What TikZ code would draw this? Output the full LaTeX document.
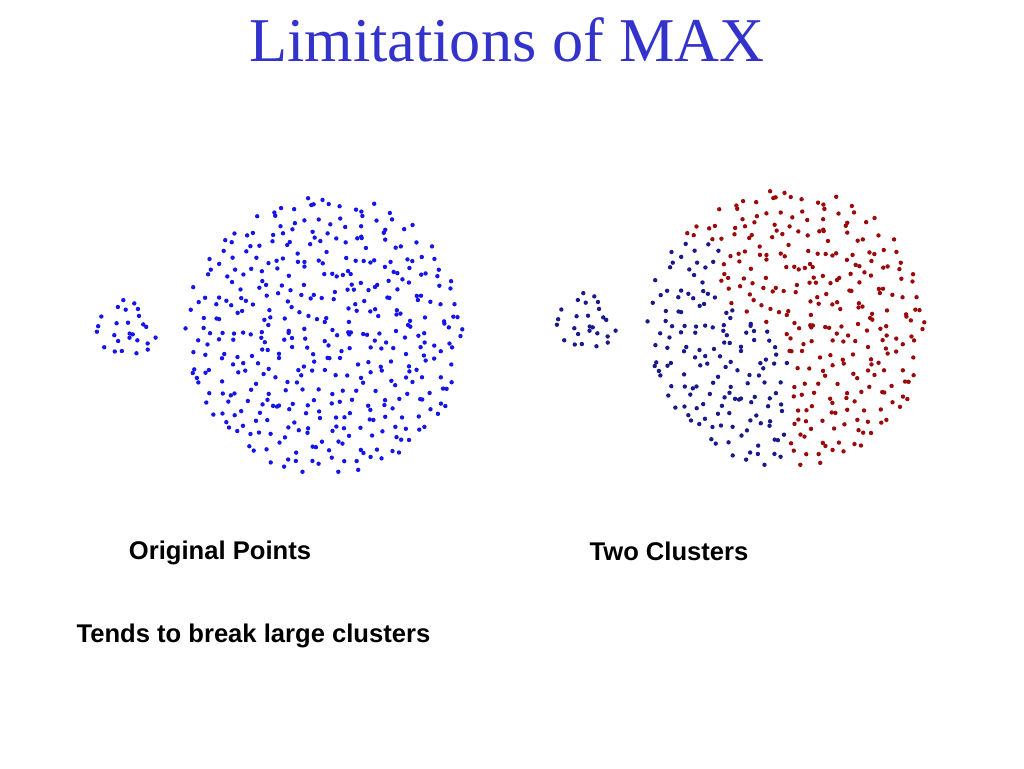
\documentclass[tikz,border=0pt]{standalone}
\usepackage{fontspec}
\setmainfont{Liberation Serif}
\newfontfamily\labelfont{Liberation Sans}
\definecolor{titleblue}{RGB}{51,51,204}
\definecolor{ptblue}{RGB}{20,20,235}
\definecolor{clblue}{RGB}{25,25,140}
\definecolor{clred}{RGB}{155,10,10}

\begin{document}
\begin{tikzpicture}[x=1pt,y=-1pt,
  dot/.style={fill=#1},
  lbl/.style={font=\labelfont\bfseries\fontsize{25.6}{30}\selectfont}]
  \useasboundingbox (0,0) rectangle (1024,768);

  \node (title) [text=titleblue,font=\fontsize{62.3}{70}\selectfont] at (507,40) {Limitations of MAX};

  % large cluster, left copy and split copy
  \pgfmathsetseed{41}
  \foreach \gx in {-138,-126,...,138} {
    \foreach \gy in {-138,-126,...,138} {
      \pgfmathsetmacro\offx{\gx+12.5*(rnd-0.5)}
      \pgfmathsetmacro\offy{\gy+12.5*(rnd-0.5)}
      \pgfmathtruncatemacro\inside{veclen(\offx,\offy)<141}
      \pgfmathtruncatemacro\isblue{(\offy>-85)&&(\offx<min(2,max(-68,-68+1.7*(\offy+30))))}
      \ifnum\inside=1
        \fill[dot=ptblue] (325+\offx,334+\offy) circle (2.2);
        \ifnum\isblue=1
          \fill[dot=clblue] (787+\offx,327+\offy) circle (2.2);
        \else
          \fill[dot=clred] (787+\offx,327+\offy) circle (2.2);
        \fi
      \fi
    }
  }

  % small cluster
  \foreach \gx in {-33,-22,...,33} {
    \foreach \gy in {-33,-22,...,33} {
      \pgfmathsetmacro\offx{\gx+11*(rnd-0.5)}
      \pgfmathsetmacro\offy{\gy+11*(rnd-0.5)}
      \pgfmathtruncatemacro\inside{veclen(\offx,\offy)<32}
      \ifnum\inside=1
        \fill[dot=ptblue] (125+\offx,331+\offy) circle (2.2);
        \fill[dot=clblue] (585+\offx,324+\offy) circle (2.2);
      \fi
    }
  }

  \node (orig) [lbl] at (220,553) {Original Points};
  \node (two) [lbl] at (669,551) {Two Clusters};
  \node (tends) [lbl,anchor=west] at (73,636) {Tends to break large clusters};
\end{tikzpicture}
\end{document}
